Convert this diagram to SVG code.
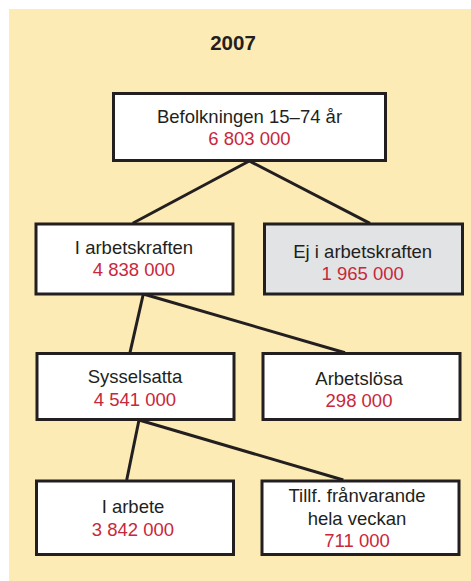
<svg xmlns="http://www.w3.org/2000/svg" width="471" height="581" viewBox="0 0 471 581">
<style>
.box{fill:#ffffff;stroke:#231f20;stroke-width:3}
.gray{fill:#e2e3e5}
.t{font-family:"Liberation Sans",Arial,sans-serif;font-size:18.5px;fill:#231f20;text-anchor:middle}
.n{fill:#c8283a}
.c{stroke:#231f20;stroke-width:3;fill:none}
</style>
<rect x="0" y="0" width="471" height="581" fill="#ffffff"/>
<rect x="9" y="9" width="462" height="572" fill="#fdebb5"/>
<text x="233" y="50" class="t" style="font-weight:bold;font-size:20.5px">2007</text>
<g id="connectors">
<line class="c" x1="249.3" y1="161" x2="132.7" y2="223.3"/>
<line class="c" x1="249.3" y1="161" x2="370" y2="223.3"/>
<line class="c" x1="143.3" y1="294" x2="130" y2="352.7"/>
<line class="c" x1="143.3" y1="294" x2="345" y2="352.7"/>
<line class="c" x1="139" y1="420" x2="126.7" y2="480"/>
<line class="c" x1="139" y1="420" x2="343.3" y2="480"/>
</g>
<g id="befolkningen">
<rect class="box" x="113.5" y="93.5" width="272" height="67"/>
<text class="t" x="249.5" y="122.7">Befolkningen 15–74 år</text>
<text class="t n" x="249.5" y="145">6 803 000</text>
</g>
<g id="i-arbetskraften">
<rect class="box" x="36" y="224" width="197" height="70"/>
<text class="t" x="134" y="254">I arbetskraften</text>
<text class="t n" x="134" y="276">4 838 000</text>
</g>
<g id="ej-i-arbetskraften">
<rect class="box gray" x="264.5" y="224" width="198" height="70"/>
<text class="t" x="362.7" y="257.7">Ej i arbetskraften</text>
<text class="t n" x="362.7" y="280">1 965 000</text>
</g>
<g id="sysselsatta">
<rect class="box" x="37" y="353.5" width="197" height="66"/>
<text class="t" x="135" y="383.3">Sysselsatta</text>
<text class="t n" x="135" y="405.5">4 541 000</text>
</g>
<g id="arbetslosa">
<rect class="box" x="263" y="353.5" width="197" height="66"/>
<text class="t" x="359" y="385">Arbetslösa</text>
<text class="t n" x="359" y="407">298 000</text>
</g>
<g id="i-arbete">
<rect class="box" x="36.5" y="481" width="197" height="73.5"/>
<text class="t" x="133" y="513.3">I arbete</text>
<text class="t n" x="133" y="535.7">3 842 000</text>
</g>
<g id="tillf-franvarande">
<rect class="box" x="262" y="481" width="197" height="73.5"/>
<text class="t" x="357" y="501.7">Tillf. frånvarande</text>
<text class="t" x="357" y="525">hela veckan</text>
<text class="t n" x="357" y="546.7">711 000</text>
</g>
</svg>
